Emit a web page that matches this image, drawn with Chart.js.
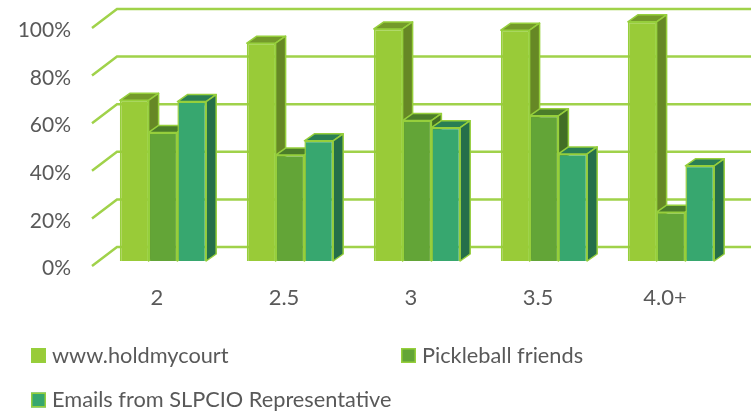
<!DOCTYPE html>
<html>
<head>
<meta charset="utf-8">
<style>
  html, body { margin: 0; padding: 0; background: #fff; }
  #wrap { position: relative; width: 751px; height: 412px; }
</style>
<script src="https://cdn.jsdelivr.net/npm/chart.js@4"></script>
</head>
<body>
<div id="wrap"><canvas id="chart" width="751" height="412"></canvas></div>
<script>
// ============ Data ============
const categories = ['2', '2.5', '3', '3.5', '4.0+'];
const holdMyCourt = [67.5, 91.5, 97.5, 97, 100.5];
const pickleballFriends = [54, 44.5, 59, 61, 20.5];
const slpcioEmails = [67, 50.5, 56, 45, 40];

// ============ Style ============
const FONT = 'Lato, sans-serif';
const TEXT = '#595959';
const LINE = '#a0d24a';
const OUTLINE = '#96cf3c';
const SERIES = [
    { front: '#99cb38', top: '#749a2a', side: '#668825' },
    { front: '#63a537', top: '#4b7d2a', side: '#426e25' },
    { front: '#37a76f', top: '#2a7f54', side: '#256f4a' }
];
const PLOT_TOP = 30.5;
const PLOT_BOTTOM = 268.5;
const BAR_PLANE_SHIFT = { x: 6, y: -7.5 };   // bars stand a little behind the axis plane
const BAR_DEPTH = { x: 10, y: 7 };
const WALL_DEPTH = { x: 25, y: 19 };
const WALL_SHIFT_Y = -2.5;                   // tick labels sit slightly below the wall lines

// ============ Plugins ============
function drawBoxFaces(chart, meta, colors) {
    const { ctx } = chart;
    const { x: dx, y: dy } = BAR_DEPTH;
    ctx.save();
    ctx.strokeStyle = OUTLINE;
    ctx.lineWidth = 1.5;
    ctx.lineJoin = 'round';
    meta.data.forEach(bar => {
        const { x, y, base, width } = bar.getProps(['x', 'y', 'base', 'width'], true);
        const l = x - width / 2;
        const r = x + width / 2;
        ctx.fillStyle = colors.top;
        ctx.beginPath();
        ctx.moveTo(l, y);
        ctx.lineTo(l + dx, y - dy);
        ctx.lineTo(r + dx, y - dy);
        ctx.lineTo(r, y);
        ctx.closePath();
        ctx.fill();
        ctx.stroke();
        ctx.fillStyle = colors.side;
        ctx.beginPath();
        ctx.moveTo(r, y);
        ctx.lineTo(r + dx, y - dy);
        ctx.lineTo(r + dx, base - dy);
        ctx.lineTo(r, base);
        ctx.closePath();
        ctx.fill();
        ctx.stroke();
    });
    ctx.restore();
}

const wallPlugin = {
    id: 'wall',
    // Pin the value axis to the picture's plot height
    afterLayout(chart) {
        const { y } = chart.scales;
        y.top = PLOT_TOP;
        y.bottom = PLOT_BOTTOM;
        y.height = PLOT_BOTTOM - PLOT_TOP;
        y.configure();
    },
    beforeDatasetsDraw(chart) {
        const { ctx, scales: { y }, chartArea, width } = chart;
        const startX = chartArea.left - 1.5;
        ctx.save();
        ctx.strokeStyle = LINE;
        ctx.lineWidth = 2.5;
        y.ticks.forEach(tick => {
            const py = y.getPixelForValue(tick.value) + WALL_SHIFT_Y;
            ctx.beginPath();
            ctx.moveTo(startX, py);
            ctx.lineTo(startX + WALL_DEPTH.x, py - WALL_DEPTH.y);
            ctx.lineTo(width, py - WALL_DEPTH.y);
            ctx.stroke();
        });
        ctx.restore();
    },
    // Chart.js paints datasets last to first; the boxes need left to right so
    // each front face covers the side of the box before it.
    beforeDatasetDraw() {
        return false;
    },
    afterDatasetsDraw(chart) {
        const { ctx } = chart;
        ctx.save();
        ctx.translate(BAR_PLANE_SHIFT.x, BAR_PLANE_SHIFT.y);
        chart.data.datasets.forEach((ds, i) => {
            const meta = chart.getDatasetMeta(i);
            meta.controller.draw();
            drawBoxFaces(chart, meta, SERIES[i]);
        });
        ctx.restore();
    }
};

const LEGEND_SLOTS = [
    { x: 31, y: 355.5 },
    { x: 401, y: 355.5 },
    { x: 31, y: 400 }
];

const legendPlugin = {
    id: 'gridLegend',
    afterDraw(chart) {
        const { ctx } = chart;
        ctx.save();
        ctx.font = '21.75px ' + FONT;
        ctx.textBaseline = 'middle';
        ctx.textAlign = 'left';
        chart.data.datasets.forEach((ds, i) => {
            const slot = LEGEND_SLOTS[i];
            ctx.fillStyle = ds.backgroundColor;
            ctx.strokeStyle = OUTLINE;
            ctx.lineWidth = 1.5;
            ctx.fillRect(slot.x, slot.y - 7.5, 15, 15);
            ctx.strokeRect(slot.x + 0.75, slot.y - 6.75, 13.5, 13.5);
            ctx.fillStyle = TEXT;
            ctx.fillText(ds.label, slot.x + 21, slot.y);
        });
        ctx.restore();
    }
};

// ============ Chart ============
const makeDataset = (label, data, i) => ({
    label,
    data,
    backgroundColor: SERIES[i].front,
    borderColor: OUTLINE,
    borderWidth: 1.5
});

new Chart(document.getElementById('chart').getContext('2d'), {
    type: 'bar',
    data: {
        labels: categories,
        datasets: [
            makeDataset('www.holdmycourt', holdMyCourt, 0),
            makeDataset('Pickleball friends', pickleballFriends, 1),
            makeDataset('Emails from SLPCIO Representative', slpcioEmails, 2)
        ]
    },
    options: {
        responsive: false,
        animation: false,
        layout: { padding: { top: 16, right: 22.5, bottom: 0, left: 0 } },
        datasets: { bar: { categoryPercentage: 0.68, barPercentage: 1 } },
        plugins: { legend: { display: false }, tooltip: { enabled: false } },
        scales: {
            x: {
                grid: { display: false },
                border: { display: false },
                ticks: { color: TEXT, font: { family: FONT, size: 22 }, padding: 8, maxRotation: 0 },
                afterFit: (axis) => { axis.height = 143.5; }
            },
            y: {
                min: 0,
                max: 100,
                grid: { display: false },
                border: { display: false },
                ticks: {
                    stepSize: 20,
                    color: TEXT,
                    font: { family: FONT, size: 21 },
                    padding: 14.5,
                    callback: (v) => v + '%'
                },
                afterFit: (axis) => { axis.width = 93.5; }
            }
        }
    },
    plugins: [wallPlugin, legendPlugin]
});
</script>
</body>
</html>
